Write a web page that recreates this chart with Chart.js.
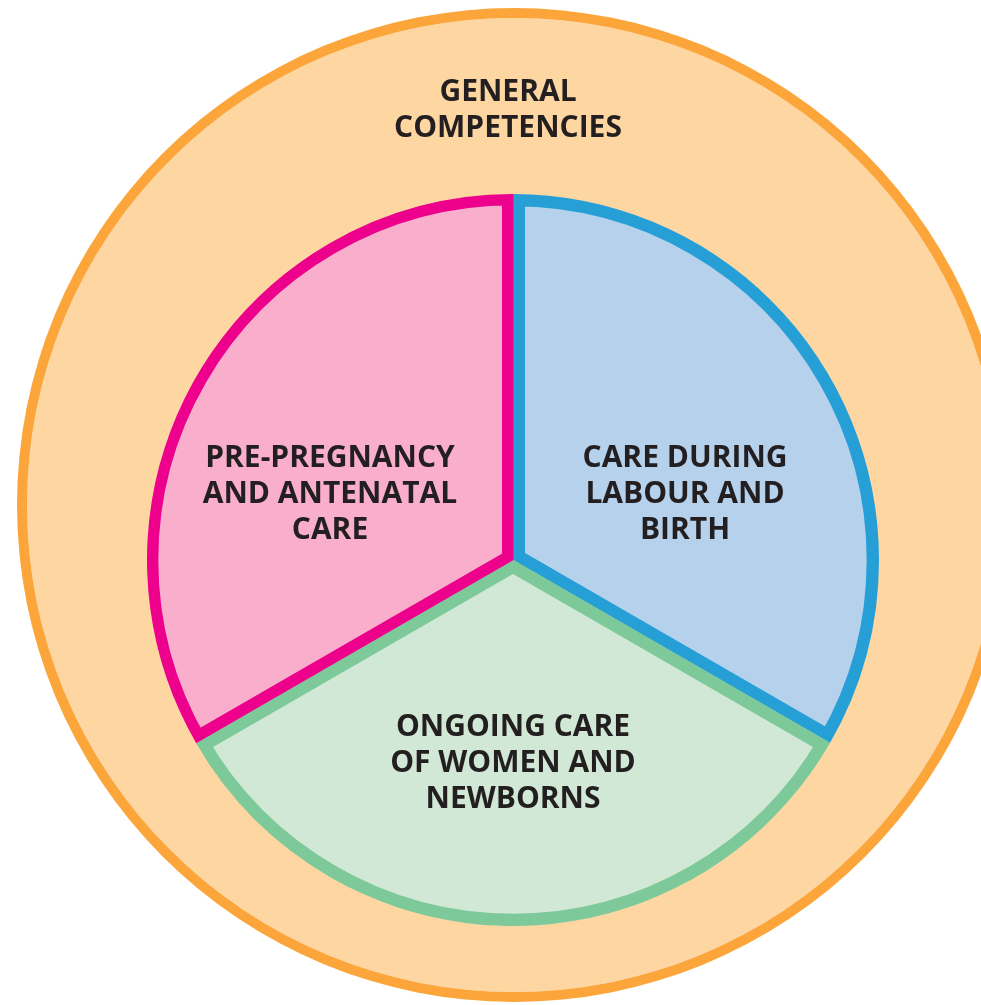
<!DOCTYPE html>
<html>
<head>
<meta charset="utf-8">
<script src="https://cdn.jsdelivr.net/npm/chart.js@4"></script>
<style>
  html, body { margin: 0; padding: 0; background: #fff; overflow: hidden; width: 981px; height: 1005px; }
  #outerWrap { position: absolute; left: 17px; top: 8px; width: 994px; height: 994px; }
  #innerWrap { position: absolute; left: 147px; top: 194px; width: 732px; height: 732px; }
</style>
</head>
<body>
<div id="outerWrap"><canvas id="outerChart" width="994" height="994"></canvas></div>
<div id="innerWrap"><canvas id="innerChart" width="732" height="732"></canvas></div>
<script>
// outer circle: one area (rim + fill drawn as two rings of the same slice)
const outerLabels = ['GENERAL COMPETENCIES'];
const outerValues = [1];

// inner pie: three equal areas, clockwise from 12 o'clock
const innerLabels = [
    ['CARE DURING', 'LABOUR AND', 'BIRTH'],
    ['ONGOING CARE', 'OF WOMEN AND', 'NEWBORNS'],
    ['PRE-PREGNANCY', 'AND ANTENATAL', 'CARE']
];
const innerValues = [1, 1, 1];

const fillColors = ['#B5D1EC', '#D0E8D5', '#F9AECB'];
const edgeColors = ['#269FD6', '#7DC99A', '#EC008C'];

const FONT = '"Open Sans", "Noto Sans", sans-serif';
const TEXT_SIZE = 30;
const LINE_H = 36;

// label offset from pie centre, as a fraction of the radius
const labelSpots = [[0.47, -0.18], [0.0, 0.555], [-0.5, -0.18]];

function drawLines(ctx, lines, x, y, lineHeight) {
    const top = y - (lines.length - 1) * lineHeight / 2;
    lines.forEach((line, i) => ctx.fillText(line, x, top + i * lineHeight));
}

const outerTextPlugin = {
    id: 'outerText',
    afterDatasetsDraw(chart) {
        const arc = chart.getDatasetMeta(0).data[0];
        const ctx = chart.ctx;
        ctx.save();
        ctx.font = 'bold ' + TEXT_SIZE + 'px ' + FONT;
        ctx.fillStyle = '#231F20';
        ctx.textAlign = 'center';
        ctx.textBaseline = 'middle';
        drawLines(ctx, ['GENERAL', 'COMPETENCIES'], arc.x - 6, arc.y - arc.outerRadius * 0.793, LINE_H);
        ctx.restore();
    }
};

const innerTextPlugin = {
    id: 'innerText',
    afterDatasetsDraw(chart) {
        const ctx = chart.ctx;
        ctx.save();
        ctx.font = 'bold ' + TEXT_SIZE + 'px ' + FONT;
        ctx.fillStyle = '#231F20';
        ctx.textAlign = 'center';
        ctx.textBaseline = 'middle';
        chart.getDatasetMeta(0).data.forEach((arc, i) => {
            const r = arc.outerRadius;
            drawLines(ctx, chart.data.labels[i], arc.x + labelSpots[i][0] * r, arc.y + labelSpots[i][1] * r, LINE_H);
        });
        ctx.restore();
    }
};

new Chart(document.getElementById('outerChart'), {
    type: 'doughnut',
    data: {
        labels: outerLabels,
        datasets: [{
            data: outerValues,
            backgroundColor: '#FBA53B',
            borderWidth: 0,
            weight: 10
        }, {
            data: outerValues,
            backgroundColor: '#FED6A1',
            borderWidth: 0,
            weight: 487
        }]
    },
    options: {
        responsive: false,
        animation: false,
        events: [],
        cutout: 0,
        layout: { padding: 0 },
        plugins: { legend: { display: false }, tooltip: { enabled: false } }
    },
    plugins: [outerTextPlugin]
});

new Chart(document.getElementById('innerChart'), {
    type: 'pie',
    data: {
        labels: innerLabels,
        datasets: [{
            data: innerValues,
            backgroundColor: fillColors,
            borderColor: edgeColors,
            borderWidth: [12, 12, 11],
            borderAlign: 'inner'
        }]
    },
    options: {
        responsive: false,
        animation: false,
        events: [],
        layout: { padding: 0 },
        plugins: { legend: { display: false }, tooltip: { enabled: false } }
    },
    plugins: [innerTextPlugin]
});
</script>
</body>
</html>
